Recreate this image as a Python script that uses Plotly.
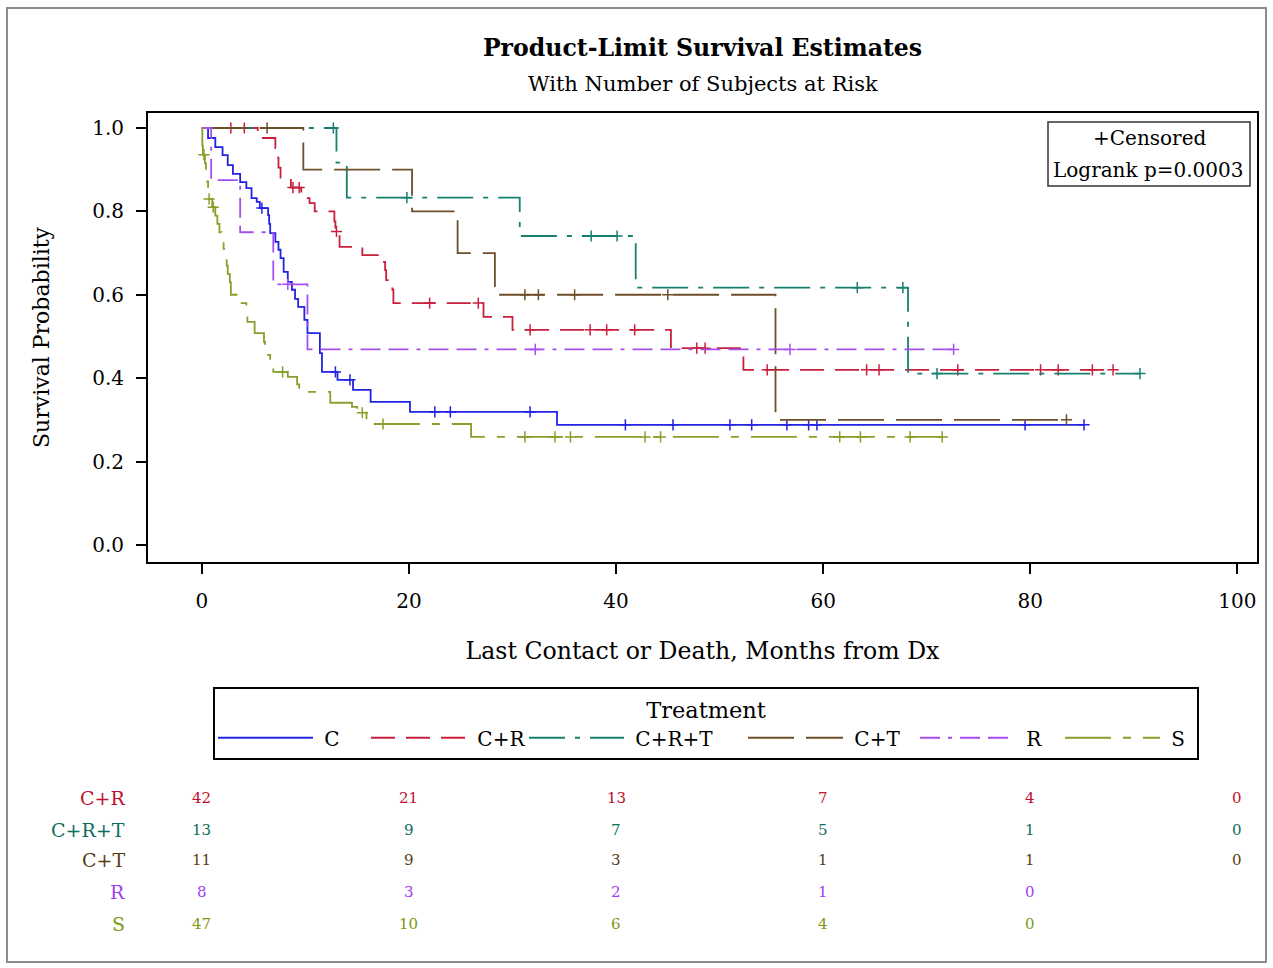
import plotly.graph_objects as go

# ---------------- data ----------------
groups = ["C", "C+R", "C+R+T", "C+T", "R", "S"]

# C
c_step_t = [0, 0.6, 1.3, 2.0, 2.5, 3.0, 3.7, 4.3, 4.8, 5.3, 5.6, 6.4, 6.5, 6.6, 7.1, 7.4, 7.6, 7.9,
            8.3, 8.7, 9.0, 9.3, 9.9, 10.2, 11.4, 11.6, 13.1, 14.6, 16.3, 20.1, 34.3, 85.2]
c_step_s = [1.0, 0.976, 0.954, 0.935, 0.911, 0.89, 0.870, 0.856, 0.832, 0.823, 0.808, 0.791, 0.77,
            0.748, 0.727, 0.708, 0.688, 0.655, 0.631, 0.612, 0.59, 0.571, 0.540, 0.508, 0.46, 0.415,
            0.396, 0.372, 0.343, 0.319, 0.288, 0.288]
c_cens_t = [5.8, 12.9, 14.3, 22.5, 24.0, 31.7, 40.9, 45.5, 51.0, 53.1, 56.5, 58.6, 59.4, 79.5, 85.2]
c_cens_s = [0.808, 0.415, 0.396, 0.319, 0.319, 0.319, 0.288, 0.288, 0.288, 0.288, 0.288, 0.288,
            0.288, 0.288, 0.288]

# C+R
cr_step_t = [0, 5.4, 7.1, 7.2, 7.4, 7.6, 8.6, 9.6, 10.4, 10.9, 12.8, 12.9, 13.3, 15.5, 17.0, 17.7,
             17.8, 18.4, 18.5, 27.2, 30.0, 45.3, 52.3, 88.0]
cr_step_s = [1.0, 0.976, 0.952, 0.929, 0.905, 0.881, 0.857, 0.832, 0.820, 0.80, 0.776, 0.752, 0.715,
             0.695, 0.679, 0.659, 0.635, 0.612, 0.58, 0.547, 0.516, 0.472, 0.42, 0.42]
cr_cens_t = [2.8, 4.1, 8.8, 9.4, 13.0, 22.0, 26.7, 31.7, 37.5, 39.1, 41.8, 47.8, 48.6, 54.6, 64.2,
             65.4, 73.0, 81.0, 82.7, 86.0, 88.0]
cr_cens_s = [1.0, 1.0, 0.857, 0.857, 0.752, 0.58, 0.58, 0.516, 0.516, 0.516, 0.516, 0.472, 0.472,
             0.42, 0.42, 0.42, 0.42, 0.42, 0.42, 0.42, 0.42]

# C+R+T
crt_step_t = [0, 13.0, 14.0, 30.7, 41.9, 68.2, 90.6]
crt_step_s = [1.0, 0.917, 0.833, 0.741, 0.617, 0.411, 0.411]
crt_cens_t = [12.7, 19.8, 37.6, 40.1, 63.3, 67.7, 71.0, 90.6]
crt_cens_s = [1.0, 0.833, 0.741, 0.741, 0.617, 0.617, 0.411, 0.411]

# C+T
ct_step_t = [0, 9.8, 20.3, 24.7, 28.3, 55.4, 83.5]
ct_step_s = [1.0, 0.9, 0.8, 0.7, 0.6, 0.3, 0.3]
ct_cens_t = [6.3, 31.2, 32.5, 36.0, 45.0, 83.5]
ct_cens_s = [1.0, 0.6, 0.6, 0.6, 0.6, 0.3]

# R
r_step_t = [0, 0.9, 3.7, 6.9, 10.2, 72.6]
r_step_s = [1.0, 0.875, 0.75, 0.625, 0.469, 0.469]
r_cens_t = [8.3, 32.2, 56.8, 72.6]
r_cens_s = [0.625, 0.469, 0.469, 0.469]

# S
s_step_t = [0, 0.05, 0.1, 0.3, 0.4, 0.5, 0.6, 0.65, 1.0, 1.3, 1.5, 1.7, 1.9, 2.1, 2.3, 2.4, 2.5, 2.7,
            2.8, 3.4, 4.3, 4.4, 5.1, 6.0, 6.1, 6.6, 6.9, 8.3, 9.2, 9.4, 12.4, 14.5, 15.0, 15.9, 26.0,
            71.5]
s_step_s = [1.0, 0.957, 0.936, 0.915, 0.894, 0.872, 0.851, 0.83, 0.81, 0.79, 0.77, 0.75, 0.73, 0.71,
            0.69, 0.67, 0.65, 0.63, 0.60, 0.58, 0.556, 0.535, 0.508, 0.487, 0.456, 0.436, 0.415,
            0.403, 0.385, 0.367, 0.341, 0.331, 0.317, 0.29, 0.259, 0.259]
s_cens_t = [0.2, 0.7, 1.1, 7.8, 15.5, 17.5, 31.2, 34.1, 35.6, 42.8, 44.3, 61.6, 63.6, 68.4, 71.5]
s_cens_s = [0.936, 0.83, 0.81, 0.415, 0.317, 0.29, 0.259, 0.259, 0.259, 0.259, 0.259, 0.259, 0.259,
            0.259, 0.259]

# number at risk table
risk_times = [0, 20, 40, 60, 80, 100]
risk_labels = ["C+R", "C+R+T", "C+T", "R", "S"]
risk_cr = [42, 21, 13, 7, 4, 0]
risk_crt = [13, 9, 7, 5, 1, 0]
risk_ct = [11, 9, 3, 1, 1, 0]
risk_r = [8, 3, 2, 1, 0]
risk_s = [47, 10, 6, 4, 0]

x_ticks = [0, 20, 40, 60, 80, 100]
y_ticks = [0.0, 0.2, 0.4, 0.6, 0.8, 1.0]

# ---------------- styling ----------------
W, H = 1273, 968
ML, MR, MT, MB = 148, 16, 113, 406
PW, PH = W - ML - MR, H - MT - MB
FONT = "DejaVu Serif"


def px(x):
    return (x - ML) / PW


def py(y):
    return (H - MB - y) / PH


line_colors = {"C": "#2323e6", "C+R": "#c8203c", "C+R+T": "#17806f",
               "C+T": "#6e4f2a", "R": "#a64ff0", "S": "#86a02a"}
text_colors = {"C+R": "#c0102e", "C+R+T": "#0e6e60", "C+T": "#5a3c14",
               "R": "#a040f0", "S": "#7a9a10"}
dashes = {"C": "solid", "C+R": "24px,11px", "C+R+T": "36px,10px,5px,10px",
          "C+T": "46px,12px", "R": "20px,8px,4px,8px,20px,8px", "S": "46px,12px,8px,12px"}
legend_widths = {"C": 43, "C+R": 48, "C+R+T": 109, "C+T": 62, "R": 35, "S": 27}

curves = {
    "C": (c_step_t, c_step_s, c_cens_t, c_cens_s),
    "C+R": (cr_step_t, cr_step_s, cr_cens_t, cr_cens_s),
    "C+R+T": (crt_step_t, crt_step_s, crt_cens_t, crt_cens_s),
    "C+T": (ct_step_t, ct_step_s, ct_cens_t, ct_cens_s),
    "R": (r_step_t, r_step_s, r_cens_t, r_cens_s),
    "S": (s_step_t, s_step_s, s_cens_t, s_cens_s),
}

fig = go.Figure()
for g in groups:
    st, ss, ctm, cs = curves[g]
    col = line_colors[g]
    fig.add_trace(go.Scatter(
        x=st, y=ss, mode="lines", name="\u00a0" + g, legendgroup=g,
        legendwidth=legend_widths[g],
        line=dict(shape="hv", color=col, width=1.8, dash=dashes[g]),
    ))
    fig.add_trace(go.Scatter(
        x=ctm, y=cs, mode="markers", legendgroup=g, showlegend=False,
        marker=dict(symbol="cross-thin", size=8, color=col, line=dict(width=1.5, color=col)),
    ))

# at-risk table
risk_rows = {"C+R": risk_cr, "C+R+T": risk_crt, "C+T": risk_ct, "R": risk_r, "S": risk_s}
row_y = [798, 830, 860, 892, 924]
annotations = []
for lab, ypix in zip(risk_labels, row_y):
    col = text_colors[lab]
    annotations.append(dict(x=px(127), y=py(ypix), xref="paper", yref="paper", text=lab,
                            showarrow=False, xanchor="right", yanchor="middle",
                            font=dict(family=FONT, size=19, color=col)))
    for t, n in zip(risk_times, risk_rows[lab]):
        annotations.append(dict(x=t, y=py(ypix), xref="x", yref="paper", text=str(n),
                                showarrow=False, xanchor="center", yanchor="middle",
                                font=dict(family=FONT, size=15, color=col)))

# subtitle
annotations.append(dict(x=0.5, y=py(84), xref="paper", yref="paper",
                        text="With Number of Subjects at Risk", showarrow=False,
                        xanchor="center", yanchor="middle",
                        font=dict(family=FONT, size=21, color="black")))
# inset
annotations.append(dict(x=px(1149), y=py(138), xref="paper", yref="paper", text="+Censored",
                        showarrow=False, xanchor="center", yanchor="middle",
                        font=dict(family=FONT, size=20, color="black")))
annotations.append(dict(x=px(1148), y=py(170), xref="paper", yref="paper",
                        text="Logrank p=0.0003", showarrow=False, xanchor="center",
                        yanchor="middle", font=dict(family=FONT, size=20, color="black")))

shapes = [
    dict(type="rect", xref="paper", yref="paper", x0=px(1048), x1=px(1250), y0=py(186), y1=py(122),
         line=dict(color="#333333", width=1.5), fillcolor="rgba(0,0,0,0)"),
    dict(type="rect", xref="paper", yref="paper", x0=px(7), x1=px(1266), y0=py(962), y1=py(8),
         line=dict(color="#8c8c8c", width=2), fillcolor="rgba(0,0,0,0)"),
]

fig.update_layout(
    width=W, height=H,
    margin=dict(l=ML, r=MR, t=MT, b=MB),
    paper_bgcolor="white", plot_bgcolor="white",
    font=dict(family=FONT, size=20, color="black"),
    title=dict(text="<b>Product-Limit Survival Estimates</b>", x=0.5, xref="paper",
               xanchor="center", y=1 - 48 / H, yanchor="middle",
               font=dict(family=FONT, size=23.6, color="black")),
    xaxis=dict(range=[-5.2, 101.9], tickvals=x_ticks, ticks="outside", ticklen=10, tickwidth=1.5,
               tickcolor="black", showline=True, linecolor="black", linewidth=2, mirror=True,
               showgrid=False, zeroline=False, ticklabelstandoff=10,
               title=dict(text="Last Contact or Death, Months from Dx", standoff=30,
                          font=dict(family=FONT, size=23.6))),
    yaxis=dict(range=[-0.041, 1.036], tickvals=y_ticks, tickformat=".1f", ticks="outside",
               ticklen=10, tickwidth=1.5, tickcolor="black", showline=True, linecolor="black",
               linewidth=2, mirror=True, showgrid=False, zeroline=False, ticklabelstandoff=8,
               title=dict(text="Survival Probability", standoff=36,
                          font=dict(family=FONT, size=22))),
    legend=dict(orientation="h", x=px(213), y=py(687), xanchor="left", yanchor="top",
                bordercolor="black", borderwidth=2, bgcolor="white", itemwidth=95,
                title=dict(text="Treatment", side="top center", font=dict(family=FONT, size=22.5)),
                font=dict(family=FONT, size=20), tracegroupgap=0),
    annotations=annotations,
    shapes=shapes,
)

fig.write_html("out.html")
